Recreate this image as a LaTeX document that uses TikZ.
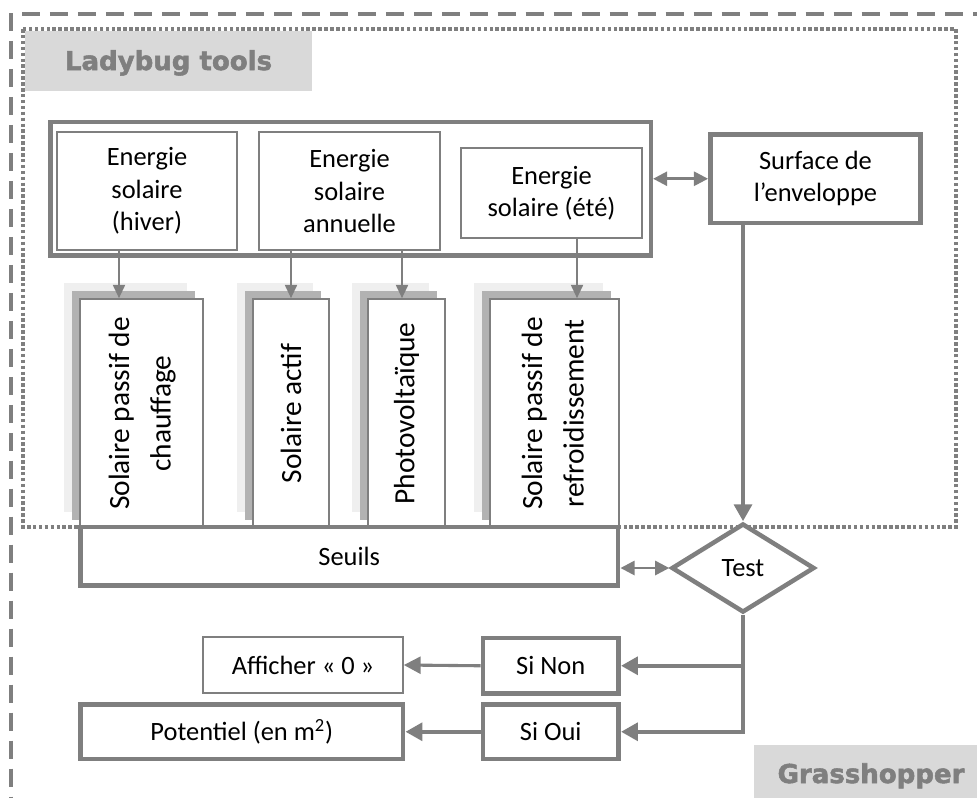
\documentclass[tikz,border=0pt]{standalone}
\usepackage{fontspec}
\usepackage{graphicx}
\setmainfont{Carlito}
\newfontfamily\lblfamily[BoldFeatures={FakeBold=2}]{DejaVu Sans}
\usetikzlibrary{arrows.meta,shapes.geometric,shadows}
\definecolor{lg}{HTML}{7F7F7F}
\definecolor{lblfill}{HTML}{D9D9D9}
\definecolor{shdark}{HTML}{B2B2B2}
\definecolor{shlight}{HTML}{EFEFEF}
\def\pxu{0.025cm}
\begin{document}
\begin{tikzpicture}[x=0.025cm,y=-0.025cm,
  thinbox/.style={draw=lg, line width=1.1pt, fill=white, inner sep=0pt, align=center,
    font=\fontsize{18.8}{23}\selectfont},
  thickbox/.style={thinbox, line width=3.5pt},
  groupbox/.style={draw=lg, line width=3pt, inner sep=0pt},
  tallbox/.style={thinbox, font=\fontsize{20.9}{29.5}\selectfont,
    general shadow={fill=shlight, shadow xshift=-16*\pxu, shadow yshift=16*\pxu},
    general shadow={fill=shdark, shadow xshift=-8*\pxu, shadow yshift=8*\pxu}},
  testshape/.style={diamond, draw=lg, line width=3.2pt, fill=white, inner sep=0pt,
    aspect=1.6, font=\fontsize{18.8}{23}\selectfont},
  arr/.style={draw=lg, line width=1.5pt, -{Triangle[length=9.5pt,width=8.5pt]}},
  darr/.style={draw=lg, line width=1.8pt, {Triangle[length=10pt,width=10pt]}-{Triangle[length=10pt,width=10pt]}},
  midarr/.style={draw=lg, line width=2.2pt, -{Triangle[length=12pt,width=12pt]}},
  bigarr/.style={draw=lg, line width=3.2pt, -{Triangle[length=12pt,width=12.5pt]}},
  labelbox/.style={fill=lblfill, inner sep=0pt},
  labeltext/.style={text=lg, font=\lblfamily\bfseries\fontsize{18.5}{22}\selectfont, inner sep=0pt, anchor=base},
  outerdash/.style={draw=lg, line width=3pt, dash pattern=on 12.8pt off 7.1pt},
  innerdot/.style={draw=lg, line width=2.5pt, dash pattern=on 2.5pt off 1.7pt}
]
\useasboundingbox (0,0) rectangle (977,798);

% frames
\draw[outerdash] (11,13) -- (11,798);
\draw[outerdash] (22,14) -- (977,14);
\draw[innerdot] (23,29) rectangle (956,527);

% labels
\node[labelbox, minimum width=287*\pxu, minimum height=60*\pxu] (ladybox) at (168.5,61) {};
\node[labeltext] (lady) at (168.5,70) {Ladybug tools};
\node[labelbox, minimum width=223*\pxu, minimum height=53*\pxu] (grassbox) at (865.5,771.5) {};
\node[labeltext] (grass) at (871,783) {Grasshopper};

% energy group
\node[groupbox, minimum width=600.5*\pxu, minimum height=133.5*\pxu] (group) at (350.75,188.75) {};
\node[thinbox, minimum width=180*\pxu, minimum height=118*\pxu] (hiver) at (147,191) {Energie\\solaire\\(hiver)};
\node[thinbox, minimum width=181*\pxu, minimum height=118*\pxu] (annu) at (349.5,191) {Energie\\solaire\\annuelle};
\node[thinbox, minimum width=181*\pxu, minimum height=90*\pxu] (ete) at (551.5,193) {Energie\\solaire (été)};
\node[thickbox, minimum width=210*\pxu, minimum height=88.5*\pxu] (surf) at (815.5,178.75) {Surface de\\l’enveloppe};

% tall boxes
\node[tallbox, minimum width=123*\pxu, minimum height=229*\pxu] (t1) at (141.5,413.5)
  {\rotatebox{90}{\begin{tabular}{@{}c@{}}Solaire passif de\\chauffage\end{tabular}}};
\node[tallbox, minimum width=76*\pxu, minimum height=229*\pxu] (t2) at (291,413.5)
  {\rotatebox{90}{Solaire actif}};
\node[tallbox, minimum width=77*\pxu, minimum height=229*\pxu] (t3) at (406.5,413.5)
  {\rotatebox{90}{Photovoltaïque}};
\node[tallbox, minimum width=129*\pxu, minimum height=229*\pxu] (t4) at (554.5,413.5)
  {\rotatebox{90}{\begin{tabular}{@{}c@{}}Solaire passif de\\refroidissement\end{tabular}}};

% lower part
\node[thickbox, minimum width=537.5*\pxu, minimum height=58.5*\pxu] (seuils) at (349.25,556.25) {Seuils};
\node[testshape, minimum width=143*\pxu, minimum height=89*\pxu] (test) at (743,568) {Test};
\node[thickbox, minimum width=135.5*\pxu, minimum height=55.5*\pxu] (sinon) at (550.75,665.75) {Si Non};
\node[thickbox, minimum width=135.5*\pxu, minimum height=54.5*\pxu] (sioui) at (550.75,731.75) {Si Oui};
\node[thinbox, minimum width=200*\pxu, minimum height=56*\pxu] (aff) at (303,665) {Afficher « 0 »};
\node[thickbox, minimum width=322.5*\pxu, minimum height=54.5*\pxu] (pot) at (241.75,731.75) {Potentiel (en m\textsuperscript{2})};

% connectors
\draw[arr] ([xshift=-28*\pxu]hiver.south) -- ([xshift=-28*\pxu]hiver.south |- t1.north);
\draw[arr] ([xshift=-58.5*\pxu]annu.south) -- ([xshift=-58.5*\pxu]annu.south |- t2.north);
\draw[arr] ([xshift=52.5*\pxu]annu.south) -- ([xshift=52.5*\pxu]annu.south |- t3.north);
\draw[arr] ([xshift=25.5*\pxu]ete.south) -- ([xshift=25.5*\pxu]ete.south |- t4.north);
\draw[darr] (group.east |- surf.west) -- (surf.west);
\draw[bigarr] (surf.south -| test.north) -- (test.north);
\draw[darr] (seuils.east |- test.west) -- (test.west);
\draw[bigarr] (test.south) |- (sinon.east);
\draw[bigarr] (test.south) |- (sioui.east);
\draw[midarr] (sinon.west) -- (aff.east);
\draw[bigarr] (sioui.west) -- (pot.east);
\end{tikzpicture}
\end{document}
